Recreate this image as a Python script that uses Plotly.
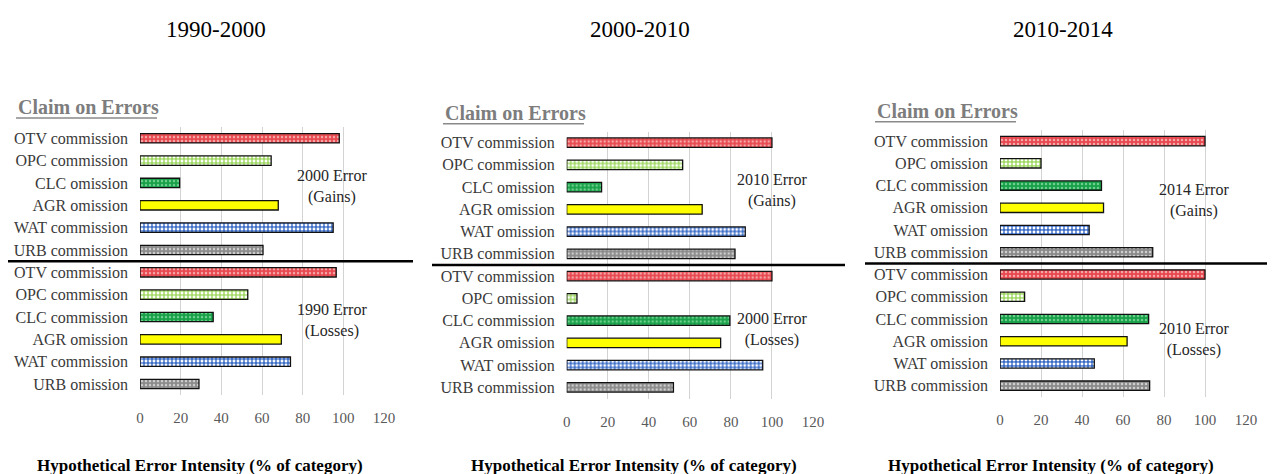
import plotly.graph_objects as go

# ---------------- data ----------------
periods = ["1990-2000", "2000-2010", "2010-2014"]

p1_top_labels = ["OTV commission", "OPC commission", "CLC omission", "AGR omission", "WAT commission", "URB commission"]
p1_top_values = [98, 64.5, 19.5, 68, 95, 60.5]
p1_bot_labels = ["OTV commission", "OPC commission", "CLC commission", "AGR omission", "WAT commission", "URB omission"]
p1_bot_values = [96.5, 53, 36, 69.5, 74, 29]

p2_top_labels = ["OTV commission", "OPC commission", "CLC omission", "AGR omission", "WAT omission", "URB commission"]
p2_top_values = [100, 56.5, 17, 66, 87, 82]
p2_bot_labels = ["OTV commission", "OPC omission", "CLC commission", "AGR omission", "WAT omission", "URB commission"]
p2_bot_values = [100, 5, 79.5, 75, 95.5, 52]

p3_top_labels = ["OTV commission", "OPC omission", "CLC commission", "AGR omission", "WAT omission", "URB commission"]
p3_top_values = [100, 20, 49.5, 50.5, 43.5, 74.5]
p3_bot_labels = ["OTV commission", "OPC commission", "CLC commission", "AGR omission", "WAT omission", "URB commission"]
p3_bot_values = [100, 12, 72.5, 62, 46, 73]

gain_notes = ["2000 Error<br>(Gains)", "2010 Error<br>(Gains)", "2014 Error<br>(Gains)"]
loss_notes = ["1990 Error<br>(Losses)", "2000 Error<br>(Losses)", "2010 Error<br>(Losses)"]

x_ticks = [0, 20, 40, 60, 80, 100, 120]

# ---------------- styles ----------------
OFF = 8                       # page body margin
W, H = 1275 - OFF, 474 - OFF  # visible figure size


def px(x):
    return (x - OFF) / W


def py(y):
    return 1 - (y - OFF) / H


class_order = ["OTV", "OPC", "CLC", "AGR", "WAT", "URB"]
class_color = {"OTV": "#e8474f", "OPC": "#9fd862", "CLC": "#17a048", "AGR": "#ffff00", "WAT": "#3a6cc6", "URB": "#8a8a8a"}
class_fg = {"OTV": "#f5a8a8", "OPC": "#ffffff", "CLC": "#6fcf8e", "AGR": "#ffff00", "WAT": "#ffffff", "URB": "#cfcfcf"}
class_shape = {"OTV": ".", "OPC": ".", "CLC": ".", "AGR": "", "WAT": ".", "URB": "."}
class_sol = {"OTV": 0.3, "OPC": 0.42, "CLC": 0.3, "AGR": 0.3, "WAT": 0.42, "URB": 0.3}

SERIF = "Liberation Serif"

geo = [
    dict(x0=140, x1=384, yt=127.1, yb=395.2, title_x=216, claim_x=16, claim_y=107, axt_x=200,
         line_x0=2, line_x1=413, gain=(94.3, 8.84), loss=(94.3, 2.83)),
    dict(x0=566.7, x1=813, yt=131.5, yb=398.5, title_x=640, claim_x=443, claim_y=112.7, axt_x=634,
         line_x0=432, line_x1=845, gain=(100.2, 8.85), loss=(100.2, 2.59)),
    dict(x0=1000, x1=1246, yt=130, yb=396.8, title_x=1063, claim_x=875, claim_y=110.7, axt_x=1051,
         line_x0=865, line_x1=1275, gain=(94.6, 8.35), loss=(94.6, 2.09)),
]

panels = [
    (p1_top_labels, p1_top_values, p1_bot_labels, p1_bot_values),
    (p2_top_labels, p2_top_values, p2_bot_labels, p2_bot_values),
    (p3_top_labels, p3_top_values, p3_bot_labels, p3_bot_values),
]

fig = go.Figure()
annotations = []
shapes = []
layout_axes = {}

for i, (tl, tv, bl, bv) in enumerate(panels):
    g = geo[i]
    suf = "" if i == 0 else str(i + 1)
    labels = tl + bl
    values = tv + bv
    ypos = list(range(11, -1, -1))
    classes = [lab.split()[0] for lab in labels]
    for c in class_order:
        idx = [k for k, cc in enumerate(classes) if cc == c]
        fig.add_trace(go.Bar(
            x=[values[k] for k in idx], y=[ypos[k] for k in idx], orientation="h", width=0.42,
            xaxis="x" + suf, yaxis="y" + suf,
            marker=dict(
                color=class_color[c],
                line=dict(color="#111111", width=1.3),
                pattern=dict(shape=class_shape[c], fgcolor=class_fg[c], fgopacity=1,
                             fillmode="overlay", size=4, solidity=class_sol[c]),
            ),
            showlegend=False, name=c, hovertext=[labels[k] for k in idx], hoverinfo="x+text",
        ))
    layout_axes["xaxis" + suf] = dict(
        domain=[px(g["x0"]), px(g["x1"])], range=[0, 120], anchor="y" + suf,
        tickvals=x_ticks, showgrid=True, gridcolor="#d3d3d3", gridwidth=1,
        zeroline=False, showline=False, ticks="", ticklabelstandoff=12,
        tickfont=dict(family=SERIF, size=15, color="#595959"), fixedrange=True,
    )
    layout_axes["yaxis" + suf] = dict(
        domain=[py(g["yb"]), py(g["yt"])], range=[-0.5, 11.5], anchor="x" + suf,
        tickvals=ypos, ticktext=labels, showgrid=False, zeroline=False, showline=False,
        ticks="", ticklabelstandoff=11,
        tickfont=dict(family=SERIF, size=16, color="#3a3a3a"), fixedrange=True,
    )
    annotations.append(dict(text=periods[i], x=px(g["title_x"]), y=py(30), xref="paper", yref="paper",
                            xanchor="center", yanchor="middle", showarrow=False,
                            font=dict(family=SERIF, size=23, color="#000000")))
    annotations.append(dict(text="<b>Claim on Errors</b>", x=px(g["claim_x"]), y=py(g["claim_y"]),
                            xref="paper", yref="paper", xanchor="left", yanchor="middle", showarrow=False,
                            font=dict(family="Liberation Serif, serif", size=20, color="#7d7d7d")))
    shapes.append(dict(type="line", xref="paper", yref="paper",
                       x0=px(g["claim_x"]), x1=px(g["claim_x"] + 141),
                       y0=py(g["claim_y"] + 11), y1=py(g["claim_y"] + 11),
                       line=dict(color="#8a8a8a", width=1.6)))
    annotations.append(dict(text="<b>Hypothetical Error Intensity (% of category)</b>", x=px(g["axt_x"]),
                            y=py(465), xref="paper", yref="paper", xanchor="center", yanchor="middle",
                            showarrow=False, font=dict(family=SERIF, size=17, color="#000000")))
    annotations.append(dict(text=gain_notes[i], x=g["gain"][0], y=g["gain"][1], xref="x" + suf, yref="y" + suf,
                            xanchor="center", yanchor="middle",
                            showarrow=False, font=dict(family=SERIF, size=16, color="#262626")))
    annotations.append(dict(text=loss_notes[i], x=g["loss"][0], y=g["loss"][1], xref="x" + suf, yref="y" + suf,
                            xanchor="center", yanchor="middle",
                            showarrow=False, font=dict(family=SERIF, size=16, color="#262626")))
    shapes.append(dict(type="line", xref="paper", yref="y" + suf,
                       x0=max(0.0, px(g["line_x0"])), x1=min(1.0, px(g["line_x1"])),
                       y0=5.5, y1=5.5, line=dict(color="#000000", width=2.5)))

fig.update_layout(
    width=W, height=H, margin=dict(l=0, r=0, t=0, b=0, pad=0, autoexpand=False),
    paper_bgcolor="#ffffff", plot_bgcolor="#ffffff",
    annotations=annotations, shapes=shapes, barmode="overlay",
    **layout_axes,
)

fig.write_html("out.html")
